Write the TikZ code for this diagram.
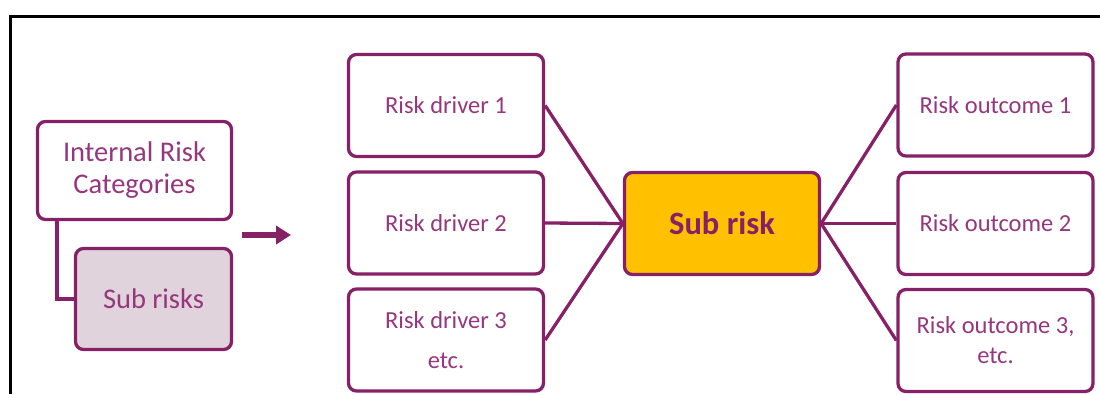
\documentclass[tikz,border=0pt]{standalone}
\usepackage{fontspec}
\setmainfont{Carlito}
\usetikzlibrary{arrows.meta}
\definecolor{plum}{RGB}{134,33,104}
\definecolor{plumtext}{RGB}{150,55,125}
\definecolor{mauve}{RGB}{224,211,220}
\definecolor{amber}{RGB}{255,192,0}
\tikzset{
  riskbox/.style={draw=plum, line width=3.3pt, rounded corners=8pt, fill=white,
    text=plumtext, align=center, inner sep=0pt,
    minimum width=195pt, minimum height=102pt,
    font=\fontsize{24.5}{30}\selectfont},
  link/.style={draw=plum, line width=3.3pt}
}
\begin{document}
\begin{tikzpicture}[x=1pt, y=-1pt]
    \useasboundingbox (0,0) rectangle (1100,394);
    % frame
    \draw[line width=3pt] (10,394) -- (10,16) -- (1100,16);

    % left part
    \node[riskbox, minimum width=194pt, minimum height=98pt,
          font=\fontsize{28.5}{32}\selectfont] (irc) at (134.5,170.5)
          {Internal Risk\\Categories};
    \node[riskbox, fill=mauve, minimum width=156pt, minimum height=101pt,
          font=\fontsize{28.5}{32}\selectfont] (subs) at (153.5,299) {Sub risks};
    \draw[link] ([xshift=-77.5pt]irc.south) |- (subs.west);

    \coordinate (arrtail) at (242,235);
    \coordinate (arrhead) at (291,235);
    \draw[plum, line width=5.5pt, -{Triangle[length=15pt, width=18pt]}] (arrtail) -- (arrhead);

    % drivers
    \node[riskbox] (drv1) at (446,105.5) {Risk driver 1};
    \node[riskbox] (drv2) at (446,223) {Risk driver 2};
    \node[riskbox] (drv3) at (446,340) {Risk driver 3\\[10pt]etc.};

    % centre
    \node[riskbox, fill=amber, text=plum, font=\bfseries\fontsize{32.5}{36}\selectfont]
          (sub) at (722,223.5) {Sub risk};

    % outcomes
    \node[riskbox] (out1) at (995.5,105) {Risk outcome 1};
    \node[riskbox] (out2) at (995.5,223.5) {Risk outcome 2};
    \node[riskbox] (out3) at (995.5,340.5) {Risk outcome 3,\\etc.};

    \foreach \n in {drv1,drv2,drv3}
        \draw[link] (\n.east) -- (sub.west);
    \foreach \n in {out1,out2,out3}
        \draw[link] (sub.east) -- (\n.west);
\end{tikzpicture}
\end{document}
